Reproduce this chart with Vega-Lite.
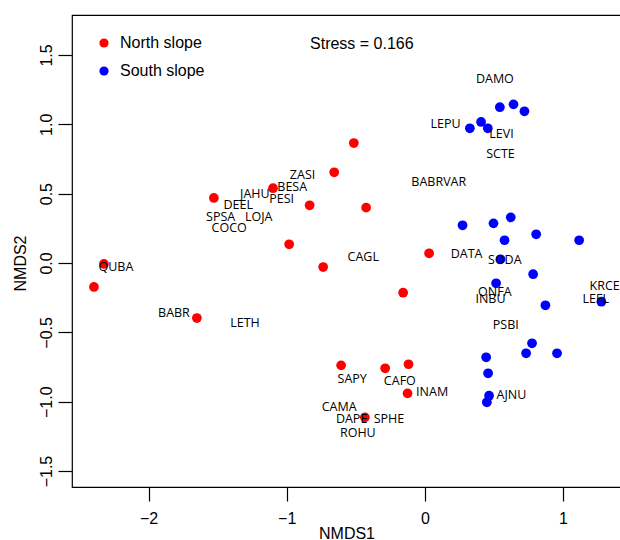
{
  "$schema": "https://vega.github.io/schema/vega-lite/v6.json",
  "width": 549,
  "height": 472,
  "autosize": {"type": "none"},
  "padding": {"left": 72, "top": 15, "right": 0, "bottom": 53},
  "background": "white",
  "config": {
    "view": {"stroke": "black", "strokeWidth": 1.2},
    "font": "Liberation Sans",
    "axis": {
      "grid": false,
      "domain": false,
      "tickColor": "black",
      "tickSize": 14,
      "tickWidth": 1.2,
      "labelColor": "black",
      "labelFont": "Liberation Sans",
      "labelFontSize": 16,
      "titleFont": "Liberation Sans",
      "titleFontSize": 16,
      "titleFontWeight": "normal",
      "titleColor": "black"
    }
  },
  "datasets": {
    "sites": [
      {"x": -2.323, "y": -0.007, "slope": "North slope"},
      {"x": -2.395, "y": -0.173, "slope": "North slope"},
      {"x": -1.650, "y": -0.397, "slope": "North slope"},
      {"x": -1.527, "y": 0.469, "slope": "North slope"},
      {"x": -1.099, "y": 0.539, "slope": "North slope"},
      {"x": -0.514, "y": 0.865, "slope": "North slope"},
      {"x": -0.656, "y": 0.654, "slope": "North slope"},
      {"x": -0.834, "y": 0.416, "slope": "North slope"},
      {"x": -0.425, "y": 0.399, "slope": "North slope"},
      {"x": -0.982, "y": 0.135, "slope": "North slope"},
      {"x": -0.736, "y": -0.029, "slope": "North slope"},
      {"x": 0.031, "y": 0.070, "slope": "North slope"},
      {"x": -0.157, "y": -0.214, "slope": "North slope"},
      {"x": -0.606, "y": -0.738, "slope": "North slope"},
      {"x": -0.287, "y": -0.759, "slope": "North slope"},
      {"x": -0.118, "y": -0.730, "slope": "North slope"},
      {"x": -0.125, "y": -0.940, "slope": "North slope"},
      {"x": -0.434, "y": -1.113, "slope": "North slope"},
      {"x": 0.543, "y": 1.123, "slope": "South slope"},
      {"x": 0.642, "y": 1.144, "slope": "South slope"},
      {"x": 0.721, "y": 1.094, "slope": "South slope"},
      {"x": 0.407, "y": 1.017, "slope": "South slope"},
      {"x": 0.456, "y": 0.971, "slope": "South slope"},
      {"x": 0.326, "y": 0.971, "slope": "South slope"},
      {"x": 0.273, "y": 0.272, "slope": "South slope"},
      {"x": 0.497, "y": 0.286, "slope": "South slope"},
      {"x": 0.622, "y": 0.329, "slope": "South slope"},
      {"x": 0.577, "y": 0.164, "slope": "South slope"},
      {"x": 0.806, "y": 0.207, "slope": "South slope"},
      {"x": 1.117, "y": 0.164, "slope": "South slope"},
      {"x": 0.548, "y": 0.027, "slope": "South slope"},
      {"x": 0.784, "y": -0.081, "slope": "South slope"},
      {"x": 0.516, "y": -0.146, "slope": "South slope"},
      {"x": 0.873, "y": -0.305, "slope": "South slope"},
      {"x": 1.278, "y": -0.279, "slope": "South slope"},
      {"x": 0.776, "y": -0.579, "slope": "South slope"},
      {"x": 0.733, "y": -0.651, "slope": "South slope"},
      {"x": 0.957, "y": -0.651, "slope": "South slope"},
      {"x": 0.444, "y": -0.680, "slope": "South slope"},
      {"x": 0.458, "y": -0.795, "slope": "South slope"},
      {"x": 0.465, "y": -0.957, "slope": "South slope"},
      {"x": 0.449, "y": -1.004, "slope": "South slope"}
    ],
    "species": [
      {"x": 0.507, "y": 1.324, "name": "DAMO"},
      {"x": 0.150, "y": 1.002, "name": "LEPU"},
      {"x": 0.555, "y": 0.930, "name": "LEVI"},
      {"x": 0.548, "y": 0.784, "name": "SCTE"},
      {"x": 0.101, "y": 0.582, "name": "BABRVAR"},
      {"x": 0.302, "y": 0.063, "name": "DATA"},
      {"x": 0.579, "y": 0.024, "name": "SODA"},
      {"x": 0.507, "y": -0.209, "name": "ONFA"},
      {"x": 0.475, "y": -0.262, "name": "INBU"},
      {"x": 1.302, "y": -0.164, "name": "KRCE"},
      {"x": 1.237, "y": -0.262, "name": "LEFL"},
      {"x": 0.586, "y": -0.449, "name": "PSBI"},
      {"x": 0.627, "y": -0.952, "name": "AJNU"},
      {"x": 0.053, "y": -0.928, "name": "INAM"},
      {"x": -0.181, "y": -0.853, "name": "CAFO"},
      {"x": -0.526, "y": -0.839, "name": "SAPY"},
      {"x": -0.620, "y": -1.040, "name": "CAMA"},
      {"x": -0.530, "y": -1.127, "name": "DAPE"},
      {"x": -0.260, "y": -1.127, "name": "SPHE"},
      {"x": -0.485, "y": -1.228, "name": "ROHU"},
      {"x": -0.446, "y": 0.045, "name": "CAGL"},
      {"x": -0.885, "y": 0.634, "name": "ZASI"},
      {"x": -0.960, "y": 0.546, "name": "BESA"},
      {"x": -1.230, "y": 0.497, "name": "JAHU"},
      {"x": -1.037, "y": 0.459, "name": "PESI"},
      {"x": -1.351, "y": 0.416, "name": "DEEL"},
      {"x": -1.478, "y": 0.329, "name": "SPSA"},
      {"x": -1.203, "y": 0.329, "name": "LOJA"},
      {"x": -1.416, "y": 0.250, "name": "COCO"},
      {"x": -2.236, "y": -0.029, "name": "QUBA"},
      {"x": -1.816, "y": -0.358, "name": "BABR"},
      {"x": -1.302, "y": -0.430, "name": "LETH"}
    ],
    "note": [
      {"x": -0.456, "y": 1.579, "text": "Stress = 0.166"}
    ]
  },
  "encoding": {
    "x": {
      "field": "x",
      "type": "quantitative",
      "scale": {"domain": [-2.554, 1.42], "nice": false, "zero": false},
      "axis": {
        "values": [-2, -1, 0, 1],
        "format": "d",
        "labelPadding": 9,
        "title": "NMDS1",
        "titleBaseline": "middle",
        "titleY": 46
      }
    },
    "y": {
      "field": "y",
      "type": "quantitative",
      "scale": {"domain": [-1.615, 1.788], "nice": false, "zero": false},
      "axis": {
        "values": [-1.5, -1, -0.5, 0, 0.5, 1, 1.5],
        "format": ".1f",
        "labelAngle": -90,
        "labelAlign": "center",
        "labelBaseline": "bottom",
        "labelPadding": 4,
        "title": "NMDS2",
        "titleAngle": -90,
        "titleBaseline": "middle",
        "titleAlign": "center",
        "titleX": -52,
        "titleY": 248
      }
    }
  },
  "layer": [
    {
      "data": {"name": "sites"},
      "mark": {"type": "point", "filled": true, "shape": "circle", "size": 95, "opacity": 1, "strokeWidth": 0},
      "encoding": {
        "color": {
          "field": "slope",
          "type": "nominal",
          "scale": {"domain": ["North slope", "South slope"], "range": ["#FF0000", "#0000FF"]},
          "legend": {
            "title": null,
            "orient": "none",
            "legendX": 24,
            "legendY": 20,
            "padding": 0,
            "symbolType": "circle",
            "symbolSize": 85,
            "symbolStrokeWidth": 0,
            "labelFontSize": 16,
            "labelFont": "Liberation Sans",
            "labelColor": "black",
            "labelOffset": 8,
            "rowPadding": 12
          }
        }
      }
    },
    {
      "data": {"name": "species"},
      "mark": {"type": "text", "font": "Open Sans", "fontSize": 12.5, "color": "black", "align": "center", "baseline": "middle"},
      "encoding": {"text": {"field": "name"}}
    },
    {
      "data": {"name": "note"},
      "mark": {"type": "text", "font": "Liberation Sans", "fontSize": 16, "color": "black", "align": "center", "baseline": "middle"},
      "encoding": {"text": {"field": "text"}}
    }
  ]
}
